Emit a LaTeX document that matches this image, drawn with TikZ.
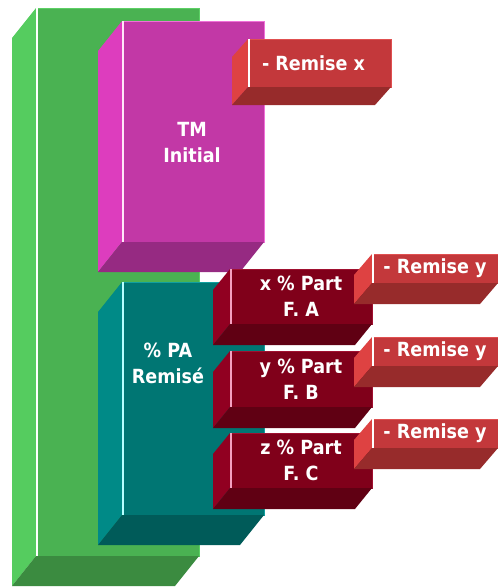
\documentclass[tikz,border=0pt]{standalone}
\usepackage{fontspec}
\setsansfont{DejaVu Sans}[BoldFeatures={FakeStretch=0.9}]
\usetikzlibrary{calc}

% colours of the blocks: F front, S side, B bottom, L edge, H highlight
\definecolor{grnF}{HTML}{4AB252}
\definecolor{grnS}{HTML}{55CC5F}
\definecolor{grnB}{HTML}{3B8B40}
\definecolor{grnL}{HTML}{5CD065}
\definecolor{grnH}{HTML}{FFFFFF}
\definecolor{magF}{HTML}{C238A6}
\definecolor{magS}{HTML}{DD3DBE}
\definecolor{magB}{HTML}{962A82}
\definecolor{magL}{HTML}{F070D8}
\definecolor{magH}{HTML}{FFE6F8}
\definecolor{teaF}{HTML}{007673}
\definecolor{teaS}{HTML}{008A87}
\definecolor{teaB}{HTML}{005B59}
\definecolor{teaL}{HTML}{10A0A0}
\definecolor{teaH}{HTML}{B8FFFF}
\definecolor{dkrF}{HTML}{80001A}
\definecolor{dkrS}{HTML}{910021}
\definecolor{dkrB}{HTML}{600013}
\definecolor{dkrL}{HTML}{A01030}
\definecolor{dkrH}{HTML}{F4A0C0}
\definecolor{redF}{HTML}{C3383B}
\definecolor{redS}{HTML}{DE4242}
\definecolor{redB}{HTML}{972B2B}
\definecolor{redL}{HTML}{E05050}
\definecolor{redH}{HTML}{FFFFFF}

\tikzset{
  face/.style={rectangle, inner sep=0pt, outer sep=0pt, anchor=north west},
  lbl/.style={text=white, font=\sffamily\bfseries\fontsize{19.5}{26}\selectfont, align=center},
}

% bloc 3D: nom, gauche, haut, largeur, hauteur, profondeur x, profondeur y, couleur
\newcommand{\cubebloc}[8]{%
  \node[face, fill=#8F, draw=#8L, line width=0.8pt, minimum width=#4pt, minimum height=#5pt] (#1) at (#2,#3) {};
  \fill[#8S] (#1.north west) -- (#1.south west) -- ++(#6,#7) -- ($(#1.north west)+(#6,#7)$) -- cycle;
  \fill[#8B] (#1.south west) -- (#1.south east) -- ++(#6,#7) -- ($(#1.south west)+(#6,#7)$) -- cycle;
  \draw[#8H, line width=1.2pt] ([xshift=1pt]#1.north west) -- ([xshift=1pt]#1.south west);
}

\begin{document}
\begin{tikzpicture}[x=1pt, y=-1pt]
    \useasboundingbox (0,0) rectangle (498,587);

    % Les grands blocs
    \cubebloc{total}{36}{8}{163}{548}{-24}{30}{grn}
    \cubebloc{tm}{122}{21}{142}{221}{-24}{30}{mag}
    \cubebloc{pa}{122}{282}{142}{233}{-24}{30}{tea}
    \cubebloc{remx}{248}{39}{143}{48}{-16}{18}{red}

    % Les parts des fournisseurs
    \cubebloc{partA}{230}{269}{142}{55}{-17}{21}{dkr}
    \cubebloc{partB}{230}{351}{142}{56}{-17}{21}{dkr}
    \cubebloc{partC}{230}{433}{142}{55}{-17}{21}{dkr}

    % Les remises
    \cubebloc{remA}{372}{254}{126}{29}{-18}{21}{red}
    \cubebloc{remB}{372}{337}{126}{29}{-18}{21}{red}
    \cubebloc{remC}{372}{419}{126}{29}{-18}{21}{red}

    % Textes
    \node[lbl] (tm-txt) at (192,143) {TM\\Initial};
    \node[lbl] (pa-txt) at (168,363) {\% PA\\Remisé};
    \node[lbl] (remx-txt) at (313.5,63) {- Remise x};
    \node[lbl] (partA-txt) at (partA) {x \% Part\\F. A};
    \node[lbl] (partB-txt) at (partB) {y \% Part\\F. B};
    \node[lbl] (partC-txt) at (partC) {z \% Part\\F. C};
    \node[lbl] (remA-txt) at (remA) {- Remise y};
    \node[lbl] (remB-txt) at (remB) {- Remise y};
    \node[lbl] (remC-txt) at (remC) {- Remise y};
\end{tikzpicture}
\end{document}
